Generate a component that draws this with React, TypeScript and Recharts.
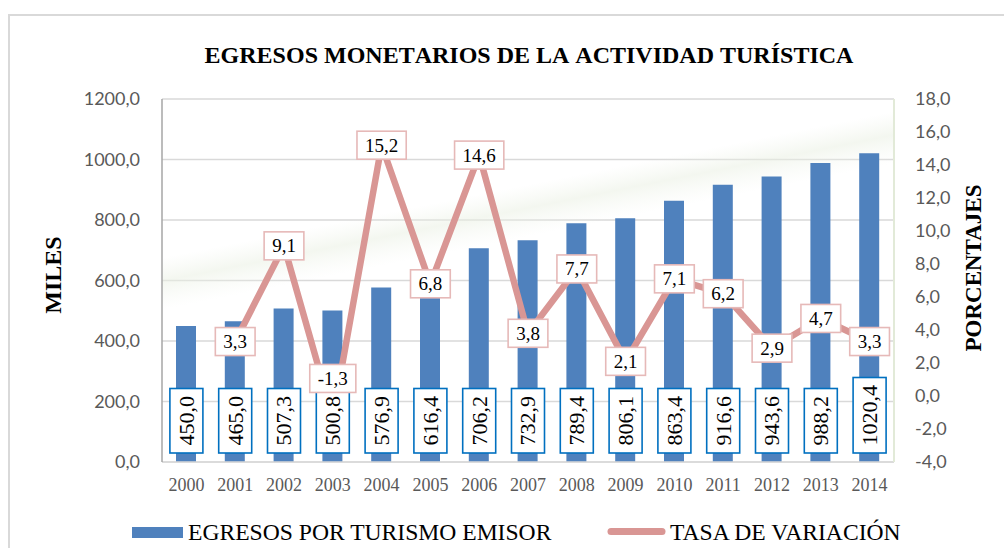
import React from 'react';
import {
  ComposedChart,
  Bar,
  Line,
  XAxis,
  YAxis,
  CartesianGrid,
  LabelList,
  Legend,
  ReferenceArea,
} from 'recharts';

const years = ['2000', '2001', '2002', '2003', '2004', '2005', '2006', '2007', '2008', '2009', '2010', '2011', '2012', '2013', '2014'];
const egresos = [450.0, 465.0, 507.3, 500.8, 576.9, 616.4, 706.2, 732.9, 789.4, 806.1, 863.4, 916.6, 943.6, 988.2, 1020.4];
const tasa: (number | null)[] = [null, 3.3, 9.1, -1.3, 15.2, 6.8, 14.6, 3.8, 7.7, 2.1, 7.1, 6.2, 2.9, 4.7, 3.3];
const leftTicks = [0, 200, 400, 600, 800, 1000, 1200];
const rightTicks = [-4, -2, 0, 2, 4, 6, 8, 10, 12, 14, 16, 18];

const data = years.map((year, i) => ({ year, egresos: egresos[i], tasa: tasa[i] }));

const SERIF = '"Liberation Serif", "Times New Roman", serif';
const SANS = 'Lato, "Liberation Sans", sans-serif';
const BAR_COLOR = '#4F81BD';
const LINE_COLOR = '#D99694';
const PLOT_BOTTOM = 462;

const fmt = (v: any) => Number(v).toFixed(1).replace('.', ',');

const serifWidth = (s: string) => {
  let w = 0;
  for (const c of s) w += c === ',' ? 0.25 : c === '-' ? 0.333 : 0.5;
  return w;
};

function BarValueLabel(props: any) {
  const value = props.value;
  const x = props.x ?? props.viewBox?.x;
  if (value == null || x == null) return null;
  const cx = Number(x);
  const text = fmt(value);
  const len = serifWidth(text) * 22 + 15;
  const bottom = PLOT_BOTTOM - 9;
  const cy = bottom - len / 2;
  return (
    <g>
      <rect x={cx - 16.5} y={bottom - len} width={33} height={len} fill="#ffffff" stroke="#0070C0" strokeWidth={1.6} />
      <text
        transform={`translate(${cx},${cy}) rotate(-90)`}
        x={0}
        y={0}
        dy="0.34em"
        textAnchor="middle"
        fontFamily={SERIF}
        fontSize={22}
        fill="#000"
      >
        {text}
      </text>
    </g>
  );
}

function RateLabel(props: any) {
  const value = props.value;
  const x = props.x ?? props.viewBox?.x;
  const y = props.y ?? props.viewBox?.y;
  if (value == null || x == null || y == null) return null;
  const text = fmt(value);
  const w = serifWidth(text) * 19 + 16;
  const h = 28;
  const cy = Number(y) + (Number(value) < 0 ? -39 : 0);
  return (
    <g>
      <rect x={Number(x) - w / 2} y={cy - h / 2} width={w} height={h} fill="#ffffff" stroke="#E6B9B8" strokeWidth={1.6} />
      <text x={Number(x)} y={cy} dy="0.34em" textAnchor="middle" fontFamily={SERIF} fontSize={19} fill="#000">
        {text}
      </text>
    </g>
  );
}

function LegendContent() {
  return (
    <svg width={1004} height={30} style={{ display: 'block' }}>
      <rect x={132} y={9} width={51} height={11} fill={BAR_COLOR} />
      <text x={188} y={22} fontFamily={SERIF} fontSize={23.6} fill="#000">
        EGRESOS POR TURISMO EMISOR
      </text>
      <line x1={611} y1={13.5} x2={662} y2={13.5} stroke={LINE_COLOR} strokeWidth={7} strokeLinecap="round" />
      <text x={670} y={22} fontFamily={SERIF} fontSize={23.6} fill="#000">
        TASA DE VARIACIÓN
      </text>
    </svg>
  );
}

export default function App() {
  return (
    <div style={{ position: 'relative', width: 1004, height: 548, overflow: 'hidden', background: '#fff' }}>
      <style>{`body{margin:0;overflow:hidden;}`}</style>
      <div
        style={{
          position: 'absolute',
          left: 8,
          top: 14,
          width: 1100,
          height: 700,
          border: '2px solid #D9D9D9',
          boxSizing: 'border-box',
        }}
      />
      <div style={{ position: 'absolute', left: 0, top: 0 }}>
        <ComposedChart width={1004} height={548} data={data} margin={{ top: 99, right: 0, bottom: 0, left: 0 }}>
          <defs>
            <linearGradient id="glow" gradientUnits="userSpaceOnUse" x1={521} y1={186} x2={531} y2={236}>
              <stop offset="0" stopColor="#EEF3E8" stopOpacity={0} />
              <stop offset="0.45" stopColor="#EAF0E3" stopOpacity={0.55} />
              <stop offset="1" stopColor="#F2F6EE" stopOpacity={0} />
            </linearGradient>
          </defs>
          <ReferenceArea yAxisId="left" y1={0} y2={1200} fill="url(#glow)" fillOpacity={1} stroke="none" ifOverflow="visible" />
          <CartesianGrid yAxisId="left" vertical={false} stroke="#D9D9D9" strokeWidth={1.5} />
          <XAxis
            dataKey="year"
            height={86}
            interval={0}
            tickLine={false}
            tickSize={0}
            tickMargin={16}
            axisLine={{ stroke: '#D9D9D9', strokeWidth: 1.5 }}
            tick={{ fill: '#595959', fontSize: 18, fontFamily: SERIF }}
          />
          <YAxis
            yAxisId="left"
            orientation="left"
            width={162}
            domain={[0, 1200]}
            ticks={leftTicks}
            interval={0}
            tickFormatter={fmt}
            tickLine={false}
            tickSize={0}
            tickMargin={22}
            axisLine={{ stroke: '#A6A6A6', strokeWidth: 1.5 }}
            tick={{ fill: '#595959', fontSize: 18, fontFamily: SANS }}
          />
          <YAxis
            yAxisId="right"
            orientation="right"
            width={110}
            domain={[-4, 18]}
            ticks={rightTicks}
            interval={0}
            tickFormatter={fmt}
            tickLine={false}
            tickSize={0}
            tickMargin={21}
            axisLine={{ stroke: '#E2EAD8', strokeWidth: 2 }}
            tick={{ fill: '#595959', fontSize: 18, fontFamily: SANS }}
          />
          <Bar
            yAxisId="left"
            dataKey="egresos"
            name="EGRESOS POR TURISMO EMISOR"
            fill={BAR_COLOR}
            barSize={20}
            isAnimationActive={false}
          />
          <Line
            yAxisId="right"
            type="linear"
            dataKey="tasa"
            name="TASA DE VARIACIÓN"
            stroke={LINE_COLOR}
            strokeWidth={6.5}
            strokeLinejoin="miter"
            dot={false}
            activeDot={false}
            connectNulls={false}
            isAnimationActive={false}
          >
            <LabelList dataKey="egresos" content={<BarValueLabel />} />
            <LabelList dataKey="tasa" content={<RateLabel />} />
          </Line>
          <Legend
            layout="horizontal"
            verticalAlign="middle"
            align="center"
            content={<LegendContent />}
            wrapperStyle={{ top: 518, left: 0, width: 1004, height: 30 }}
          />
        </ComposedChart>
      </div>
      <svg width={1004} height={548} style={{ position: 'absolute', left: 0, top: 0, pointerEvents: 'none' }}>
        <text
          x={529}
          y={63}
          textAnchor="middle"
          fontFamily={SERIF}
          fontWeight="bold"
          fontSize={24}
          fill="#000"
          style={{ fontKerning: 'none' }}
        >
          EGRESOS MONETARIOS DE LA ACTIVIDAD TURÍSTICA
        </text>
        <text
          transform="translate(52.5,275) rotate(-90)"
          textAnchor="middle"
          dy="0.35em"
          fontFamily={SERIF}
          fontWeight="bold"
          fontSize={24}
          fill="#000"
        >
          MILES
        </text>
        <text
          transform="translate(973,268) rotate(-90)"
          textAnchor="middle"
          dy="0.35em"
          fontFamily={SERIF}
          fontWeight="bold"
          fontSize={23}
          fill="#000"
        >
          PORCENTAJES
        </text>
      </svg>
    </div>
  );
}
